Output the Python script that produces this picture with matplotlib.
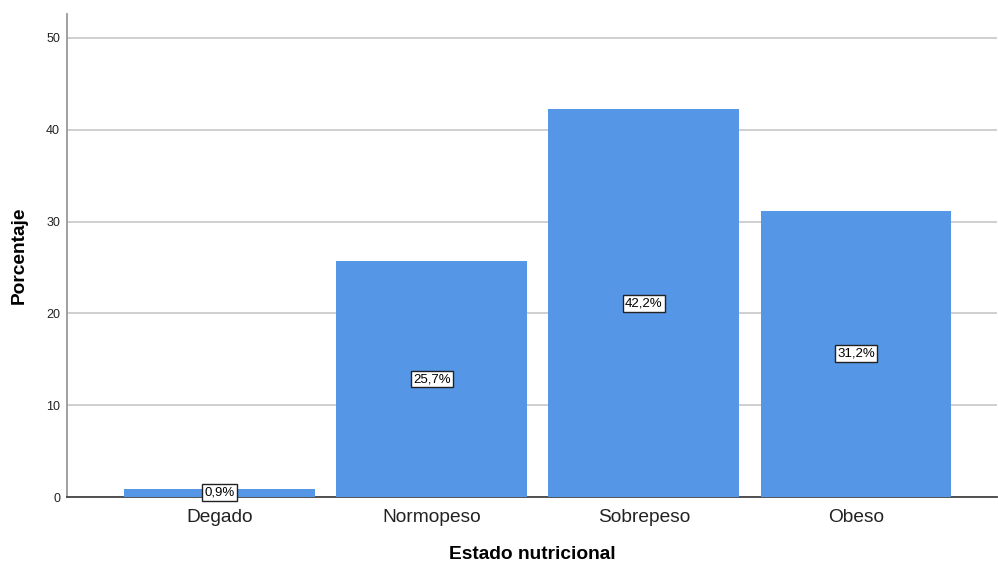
import matplotlib.pyplot as plt

plt.rcParams['font.family'] = ['Liberation Sans', 'DejaVu Sans']

categorias = ['Degado', 'Normopeso', 'Sobrepeso', 'Obeso']
porcentajes = [0.9, 25.7, 42.2, 31.2]
etiquetas = ['0,9%', '25,7%', '42,2%', '31,2%']

fig = plt.figure(figsize=(9.98, 5.63), dpi=100)
ax = fig.add_axes([67 / 998, 66 / 563, 930 / 998, 483 / 563])

x = range(len(categorias))
ax.bar(x, porcentajes, width=0.9, color='#5596E6', zorder=3)

# etiqueta en caja blanca centrada en cada barra
for i, (v, t) in enumerate(zip(porcentajes, etiquetas)):
    ax.text(i, v / 2, t, ha='center', va='center', fontsize=9.5, zorder=4,
            bbox=dict(boxstyle='square,pad=0.18', fc='white', ec='#222222', lw=1))

ax.set_xlim(-0.72, 3.665)
ax.set_ylim(0, 52.6)
ax.set_yticks([0, 10, 20, 30, 40, 50])
ax.set_xticks(list(x))
ax.set_xticklabels(categorias)
ax.tick_params(axis='y', length=0, labelsize=9, pad=5, labelcolor='#222222')
ax.tick_params(axis='x', length=0, labelsize=13.8, pad=9, labelcolor='#222222')
ax.yaxis.grid(True, color='#CCCCCC', lw=1.3, zorder=0)

for s in ['top', 'right']:
    ax.spines[s].set_visible(False)
ax.spines['left'].set_color('#999999')
ax.spines['left'].set_linewidth(1.3)
ax.spines['bottom'].set_color('#444444')
ax.spines['bottom'].set_linewidth(1.3)

ax.set_xlabel('Estado nutricional', fontsize=13.8, fontweight='bold', labelpad=14)
ax.set_ylabel('Porcentaje', fontsize=13.8, fontweight='bold', labelpad=13)

fig.savefig('out.png', dpi=100)
